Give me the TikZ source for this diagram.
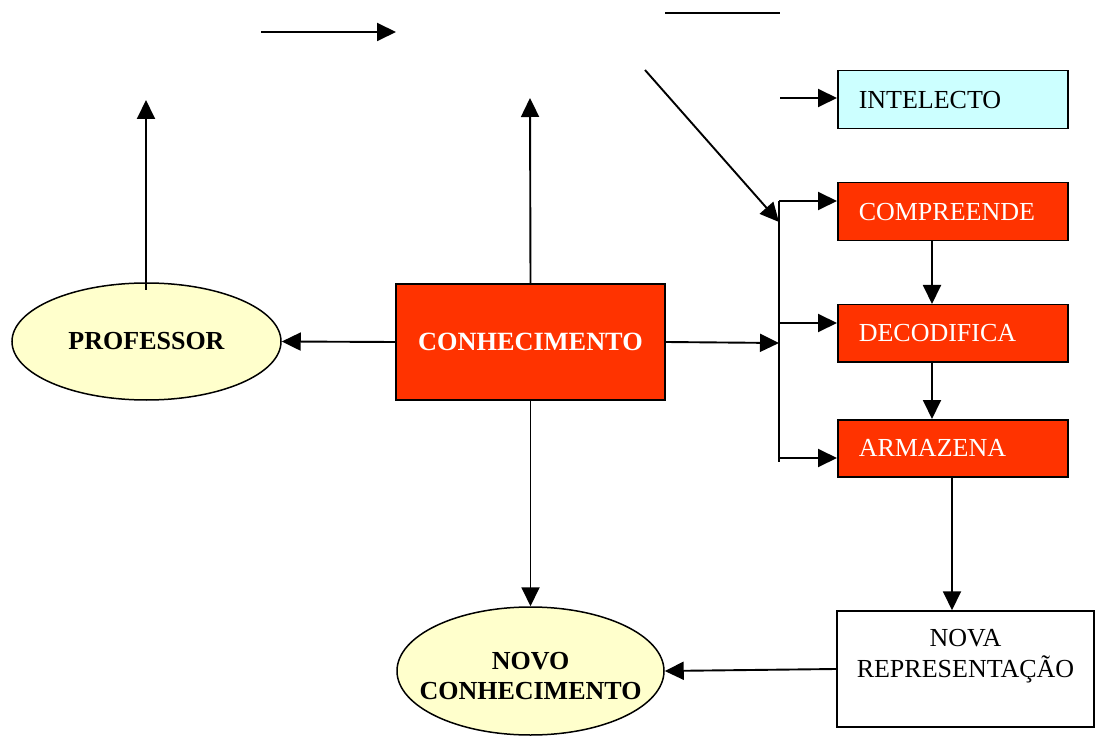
\documentclass[tikz,border=0pt]{standalone}
\usepackage{fontspec}
\setmainfont{Liberation Serif}
\usetikzlibrary{arrows.meta,calc,shapes.geometric}
\definecolor{boxred}{HTML}{FF3300}
\definecolor{paleyellow}{HTML}{FFFFCC}
\definecolor{palecyan}{HTML}{CCFFFF}
\tikzset{
  every node/.style={font=\fontsize{26}{31}\selectfont},
  conn/.style={line width=1.9pt,-{Triangle[length=19pt,width=18pt]}},
  plain/.style={line width=1.9pt},
  sidebox/.style={draw=black,line width=1.5pt,fill=boxred,text=white,anchor=north west,
    minimum height=58pt,text width=188pt,inner xsep=21pt,inner ysep=0pt,align=left},
  ovalnode/.style={ellipse,draw=black,line width=1.5pt,fill=paleyellow,inner sep=0pt},
  ovaltext/.style={align=center,font=\fontsize{26}{30}\selectfont\bfseries,inner sep=0pt}
}
\begin{document}
\begin{tikzpicture}[x=1pt,y=-1pt]
\useasboundingbox (0,0) rectangle (1096,738);
% boxes
\node[sidebox,fill=palecyan,text=black] (intel) at (837,70) {INTELECTO};
\node[sidebox] (comp) at (837,182) {COMPREENDE};
\node[sidebox,minimum height=57pt] (deco) at (837,304) {DECODIFICA};
\node[sidebox,minimum height=57pt] (arm) at (837,419) {ARMAZENA};
\node[draw=black,line width=1.5pt,fill=boxred,text=white,minimum width=269pt,minimum height=116pt,inner sep=0pt,font=\fontsize{26.3}{30}\selectfont\bfseries] (conh) at (530.5,342) {CONHECIMENTO};
\node[ovalnode,minimum width=269pt,minimum height=117pt] (prof) at (146.5,341.5) {};
\node[ovaltext] (proftxt) at (prof.center) {PROFESSOR};
\node[ovalnode,minimum width=267pt,minimum height=128pt] (novo) at (530.5,671) {};
\node[ovaltext] (novotxt) at (530.5,676) {NOVO\\CONHECIMENTO};
\node[draw=black,line width=1.5pt,fill=white,minimum width=257pt,minimum height=116pt,inner sep=0pt] (nova) at (965.5,669) {};
\node[align=center,inner sep=0pt] (novatxt) at (965.5,656) {NOVA\\REPRESENTAÇÃO};
% free coordinates
\coordinate (t1) at (261,32);
\coordinate (t2) at (396,32);
\coordinate (l1) at (665,13);
\coordinate (l2) at (780,13);
\coordinate (d1) at (645,70);
\coordinate (d2) at (779,222);
\coordinate (i1) at (780,98);
\coordinate (b1) at (779,201);
\coordinate (b2) at (779,323);
\coordinate (b3) at (779,458);
\coordinate (b4) at (779,462);
\coordinate (bm) at (779,343);
\coordinate (up1) at (146,100);
\coordinate (up2) at (530,98);
\coordinate (pstart) at (146,290);
% connectors
\draw[conn] (t1) -- (t2);
\draw[plain] (l1) -- (l2);
\draw[conn] (d1) -- (d2);
\draw[conn] (i1) -- (i1 -| intel.west);
\draw[plain] (b1) -- (b4);
\draw[conn] (b1) -- (b1 -| comp.west);
\draw[conn] (b2) -- (b2 -| deco.west);
\draw[conn] (b3) -- (b3 -| arm.west);
\draw[conn] (conh.east) -- (bm);
\draw[conn] (conh.west) -- (prof.east);
\draw[conn] (pstart) -- (up1);
\draw[conn] (conh.north) -- (up2);
\draw[conn] (conh.south) -- (novo.north);
\draw[conn] ([xshift=95pt]comp.south west) -- ([xshift=95pt]deco.north west);
\draw[conn] ([xshift=95pt]deco.south west) -- ([xshift=95pt]arm.north west);
\draw[conn] ([xshift=115pt]arm.south west) -- ([xshift=115pt]arm.south west |- nova.north);
\draw[conn] (nova.west) -- (novo.east);
\end{tikzpicture}
\end{document}
